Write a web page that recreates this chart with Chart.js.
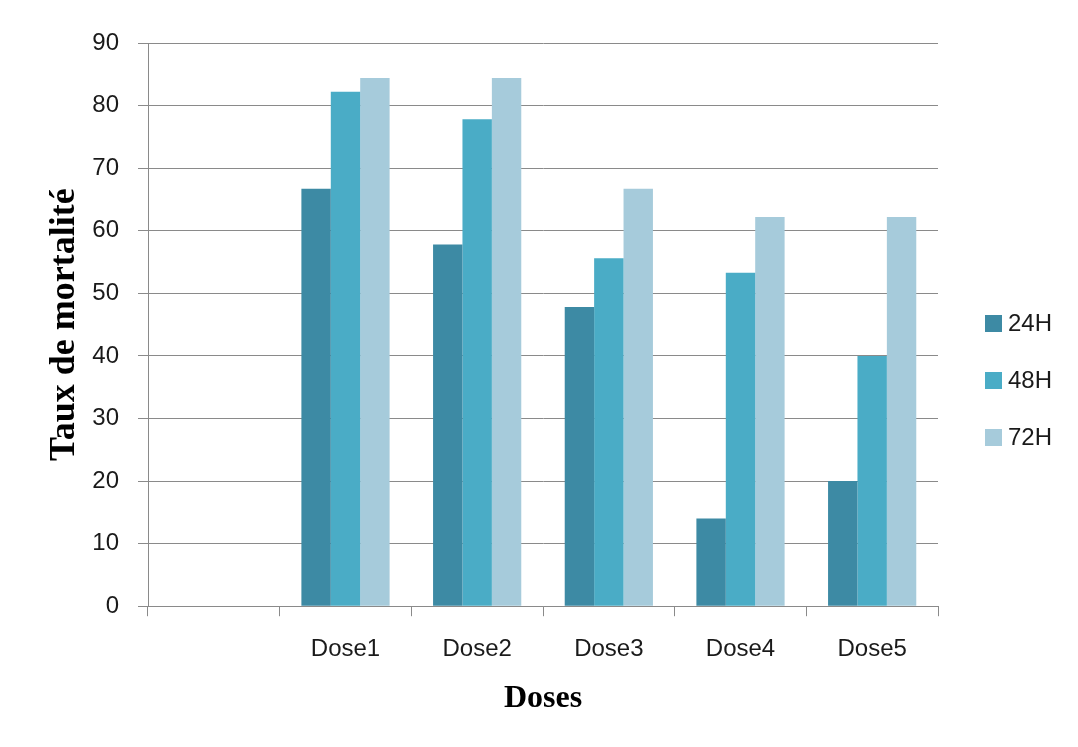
<!DOCTYPE html>
<html>
<head>
<meta charset="utf-8">
<script src="https://cdn.jsdelivr.net/npm/chart.js@4/dist/chart.umd.min.js"></script>
<style>
  html, body { margin: 0; padding: 0; background: #ffffff; }
  #wrap { width: 1078px; height: 747px; position: relative; }
</style>
</head>
<body>
<div id="wrap"><canvas id="c" width="1078" height="747"></canvas></div>
<script>
const categories = ["", "Dose1", "Dose2", "Dose3", "Dose4", "Dose5"];
const seriesNames = ["24H", "48H", "72H"];
const values24H = [null, 66.7, 57.8, 47.8, 14.0, 20.0];
const values48H = [null, 82.2, 77.8, 55.6, 53.3, 40.0];
const values72H = [null, 84.4, 84.4, 66.7, 62.2, 62.2];
const yTicks = [0, 10, 20, 30, 40, 50, 60, 70, 80, 90];
const yTitle = "Taux de mortalité";
const xTitle = "Doses";

const colors = ["#3d8aa4", "#4aacc6", "#a6cbdb"];
const sansFont = "'Liberation Sans', Arial, sans-serif";
const serifFont = "'Liberation Serif', 'Times New Roman', serif";
const gridColor = "#8a8a8a";

const customLegend = {
  id: 'customLegend',
  afterDraw(chart) {
    const ctx = chart.ctx;
    ctx.save();
    const rowY = [323, 380, 437];
    chart.data.datasets.forEach((ds, i) => {
      const y = rowY[i];
      ctx.fillStyle = ds.backgroundColor;
      ctx.fillRect(985, y - 8, 17, 17);
      ctx.fillStyle = "#1a1a1a";
      ctx.font = "24px " + sansFont;
      ctx.textBaseline = "middle";
      ctx.textAlign = "left";
      ctx.fillText(ds.label, 1008, y + 1);
    });
    ctx.restore();
  }
};

new Chart(document.getElementById('c'), {
  type: 'bar',
  data: {
    labels: categories,
    datasets: [
      { label: seriesNames[0], data: values24H, backgroundColor: colors[0] },
      { label: seriesNames[1], data: values48H, backgroundColor: colors[1] },
      { label: seriesNames[2], data: values72H, backgroundColor: colors[2] }
    ]
  },
  options: {
    responsive: false,
    animation: false,
    devicePixelRatio: 1,
    layout: { padding: { top: 43, right: 140, bottom: 32, left: 0 } },
    datasets: { bar: { categoryPercentage: 0.67, barPercentage: 1.0, borderWidth: 0 } },
    plugins: {
      legend: { display: false },
      tooltip: { enabled: false }
    },
    scales: {
      x: {
        grid: { display: true, offset: true, drawOnChartArea: false, drawTicks: true, tickLength: 10, color: gridColor, lineWidth: 1 },
        border: { display: true, color: gridColor, width: 1 },
        ticks: { color: "#1a1a1a", font: { family: sansFont, size: 24 }, padding: 19, maxRotation: 0 },
        title: { display: true, text: xTitle, color: "#000", font: { family: serifFont, size: 32, weight: 'bold', lineHeight: 1.0 }, padding: { top: 0, bottom: 0 } }
      },
      y: {
        min: 0, max: 90,
        afterBuildTicks(scale) { scale.ticks = yTicks.map(v => ({ value: v })); },
        afterFit(scale) { scale.width = 148; },
        grid: { display: true, color: gridColor, lineWidth: 1, drawTicks: true, tickLength: 10 },
        border: { display: true, color: gridColor, width: 1 },
        ticks: { color: "#1a1a1a", font: { family: sansFont, size: 24 }, padding: 19 },
        title: { display: true, text: yTitle, color: "#000", font: { family: serifFont, size: 36, weight: 'bold' }, padding: { top: 43, bottom: 0 } }
      }
    }
  },
  plugins: [customLegend]
});
</script>
</body>
</html>
